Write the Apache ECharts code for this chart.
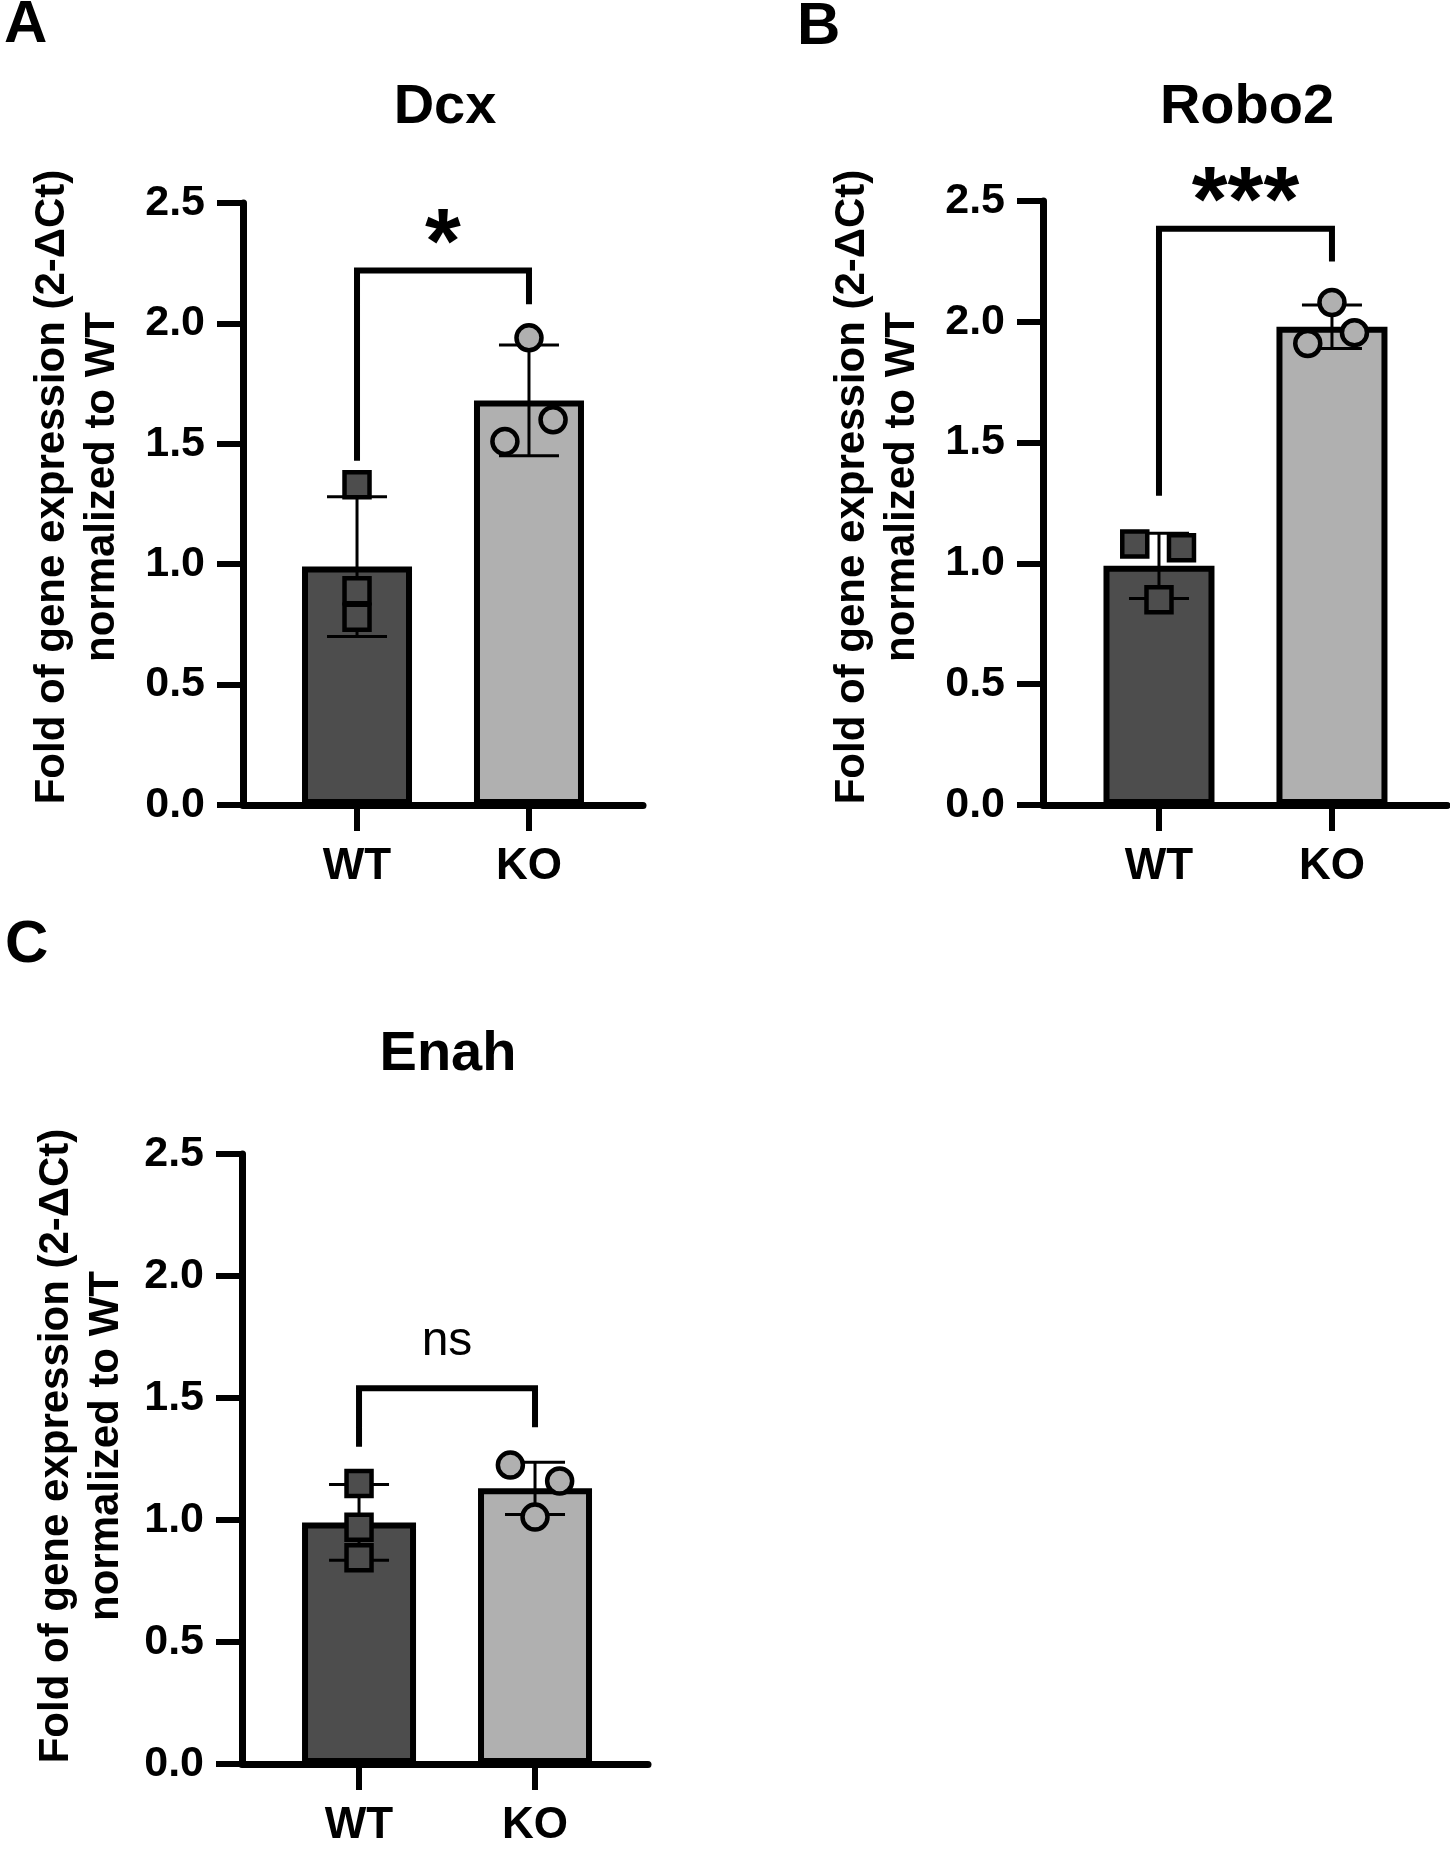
<!DOCTYPE html>
<html><head><meta charset="utf-8">
<script src="https://cdn.jsdelivr.net/npm/echarts@6/dist/echarts.min.js"></script>
<style>html,body{margin:0;padding:0;background:#fff}#c{width:1450px;height:1849px}</style>
</head><body><div id="c"></div>
<script>
// ---------- data ----------
const categories = ['WT', 'KO'];
const panelLetters = ['A', 'B', 'C'];
const geneNames = ['Dcx', 'Robo2', 'Enah'];
const yAxisTitle = 'Fold of gene expression (2-ΔCt)\nnormalized to WT';
const yTickLabels = ['0.0', '0.5', '1.0', '1.5', '2.0', '2.5'];

const dcxMean = [0.99, 1.68];
const dcxSD = [0.29, 0.23];
const dcxWT = [1.33, 0.89, 0.78];
const dcxKO = [1.94, 1.60, 1.51];
const dcxSig = ['*', 2.22, 1.43, 2.08];      // label, bracket top, left leg end, right leg end

const robo2Mean = [0.99, 1.98];
const robo2SD = [0.135, 0.09];
const robo2WT = [1.08, 1.065, 0.85];
const robo2KO = [2.08, 1.955, 1.91];
const robo2Sig = ['***', 2.385, 1.28, 2.25];

const enahMean = [0.99, 1.13];
const enahSD = [0.155, 0.107];
const enahWT = [1.15, 0.97, 0.845];
const enahKO = [1.225, 1.16, 1.012];
const enahSig = ['ns', 1.54, 1.30, 1.38];

// ---------- layout / style ----------
const FONT = '"Liberation Sans", Arial, Helvetica, sans-serif';
const WT_COLOR = '#4d4d4d';
const KO_COLOR = '#b0b0b0';

const panels = [
  { mean: dcxMean, sd: dcxSD, wt: dcxWT, ko: dcxKO, sig: dcxSig,
    left: 243, top: 203, width: 400, height: 602, xMin: 0.337, xMax: 2.663, barWidth: 110,
    wtJit: [0, 0, 0], koJit: [0, 0.14, -0.14],
    titleX: 445, titleY: 108, letterX: 4, letterY: 25, yTitleX: 77, yTitleY: 487,
    sigOffset: 23, sigFont: 'bold 92px ' + FONT },
  { mean: robo2Mean, sd: robo2SD, wt: robo2WT, ko: robo2KO, sig: robo2Sig,
    left: 1043, top: 201, width: 404, height: 604, xMin: 0.3295, xMax: 2.665, barWidth: 111,
    wtJit: [-0.14, 0.13, 0], koJit: [0, 0.13, -0.14],
    titleX: 1247, titleY: 108, letterX: 797, letterY: 27, yTitleX: 877, yTitleY: 487,
    sigOffset: 23, sigFont: 'bold 92px ' + FONT },
  { mean: enahMean, sd: enahSD, wt: enahWT, ko: enahKO, sig: enahSig,
    left: 242, top: 1154, width: 406, height: 610, xMin: 0.335, xMax: 2.642, barWidth: 114,
    wtJit: [0, 0, 0], koJit: [-0.14, 0.14, 0],
    titleX: 448, titleY: 1055, letterX: 5, letterY: 945, yTitleX: 81, yTitleY: 1446,
    sigOffset: 46, sigFont: 'normal 48px ' + FONT }
];

const grids = [], xAxes = [], yAxes = [], series = [], graphics = [];

panels.forEach((p, i) => {
  grids.push({ left: p.left, top: p.top, width: p.width, height: p.height, containLabel: false });
  xAxes.push({
    type: 'value', gridIndex: i, min: p.xMin, max: p.xMax,
    axisLine: { show: true, onZero: false, lineStyle: { color: '#000', width: 7 } },
    axisTick: { show: true, customValues: [1, 2], length: 26, lineStyle: { color: '#000', width: 6 } },
    axisLabel: { show: true, customValues: [1, 2], margin: 40,
      formatter: v => categories[Math.round(v) - 1] || '',
      color: '#000', fontFamily: FONT, fontWeight: 'bold', fontSize: 44 },
    splitLine: { show: false }
  });
  yAxes.push({
    type: 'value', gridIndex: i, min: 0, max: 2.5, interval: 0.5,
    axisLine: { show: true, lineStyle: { color: '#000', width: 7 } },
    axisTick: { show: true, length: 26, lineStyle: { color: '#000', width: 6 } },
    axisLabel: { margin: 38, formatter: v => yTickLabels[Math.round(v / 0.5)],
      color: '#000', fontFamily: FONT, fontWeight: 'bold', fontSize: 43 },
    splitLine: { show: false }
  });

  // bars
  series.push({
    type: 'bar', xAxisIndex: i, yAxisIndex: i, barWidth: p.barWidth, z: 2,
    itemStyle: { borderColor: '#000', borderWidth: 6 },
    data: [
      { value: [1, p.mean[0]], itemStyle: { color: WT_COLOR } },
      { value: [2, p.mean[1]], itemStyle: { color: KO_COLOR } }
    ]
  });
  // error bars (mean ± SD)
  series.push({
    type: 'custom', xAxisIndex: i, yAxisIndex: i, z: 3, clip: false,
    encode: { x: 0, y: [1, 2] },
    data: [[1, p.mean[0], p.sd[0]], [2, p.mean[1], p.sd[1]]],
    renderItem: (params, api) => {
      const x = api.value(0), m = api.value(1), s = api.value(2);
      const t = api.coord([x, m + s]), b = api.coord([x, m - s]);
      const hw = 30, st = { stroke: '#000', lineWidth: 3 };
      return { type: 'group', children: [
        { type: 'line', shape: { x1: t[0], y1: t[1], x2: b[0], y2: b[1] }, style: st },
        { type: 'line', shape: { x1: t[0] - hw, y1: t[1], x2: t[0] + hw, y2: t[1] }, style: st },
        { type: 'line', shape: { x1: b[0] - hw, y1: b[1], x2: b[0] + hw, y2: b[1] }, style: st }
      ]};
    }
  });
  // individual points
  series.push({
    type: 'scatter', xAxisIndex: i, yAxisIndex: i, z: 4, symbol: 'rect', symbolSize: 25,
    itemStyle: { color: WT_COLOR, borderColor: '#000', borderWidth: 4.5, opacity: 1 },
    data: p.wt.map((v, k) => [1 + p.wtJit[k], v])
  });
  series.push({
    type: 'scatter', xAxisIndex: i, yAxisIndex: i, z: 4, symbol: 'circle', symbolSize: 25,
    itemStyle: { color: KO_COLOR, borderColor: '#000', borderWidth: 4.5, opacity: 1 },
    data: p.ko.map((v, k) => [2 + p.koJit[k], v])
  });
  // significance bracket
  const sig = p.sig;
  series.push({
    type: 'custom', xAxisIndex: i, yAxisIndex: i, z: 5, clip: false,
    encode: { x: [0, 1], y: [2, 3, 4] },
    data: [[1, 2, sig[1], sig[2], sig[3]]],
    renderItem: (params, api) => {
      const x1 = api.value(0), x2 = api.value(1);
      const yt = api.value(2), yl = api.value(3), yr = api.value(4);
      const a = api.coord([x1, yl]), b = api.coord([x1, yt]);
      const c = api.coord([x2, yt]), d = api.coord([x2, yr]);
      return { type: 'group', children: [
        { type: 'polyline', shape: { points: [a, b, c, d] },
          style: { stroke: '#000', lineWidth: 6, fill: null, lineJoin: 'miter' } },
        { type: 'text', x: (b[0] + c[0]) / 2, y: b[1] - p.sigOffset,
          style: { text: sig[0], font: p.sigFont, fill: '#000',
            align: 'center', verticalAlign: 'middle', textAlign: 'center', textVerticalAlign: 'middle' } }
      ]};
    }
  });

  // panel letter, gene title, y-axis title
  graphics.push({ type: 'text', x: p.letterX, y: p.letterY,
    style: { text: panelLetters[i], font: 'bold 60px ' + FONT, fill: '#000',
      align: 'left', verticalAlign: 'middle', textAlign: 'left', textVerticalAlign: 'middle' } });
  graphics.push({ type: 'text', x: p.titleX, y: p.titleY,
    style: { text: geneNames[i], font: 'bold 56px ' + FONT, fill: '#000',
      align: 'center', verticalAlign: 'middle', textAlign: 'center', textVerticalAlign: 'middle' } });
  graphics.push({ type: 'text', x: p.yTitleX, y: p.yTitleY, rotation: Math.PI / 2,
    style: { text: yAxisTitle, font: 'bold 42px ' + FONT, fill: '#000', lineHeight: 50,
      align: 'center', verticalAlign: 'middle', textAlign: 'center', textVerticalAlign: 'middle' } });
});

const chart = echarts.init(document.getElementById('c'), null, { renderer: 'canvas' });
chart.setOption({
  animation: false,
  backgroundColor: '#fff',
  grid: grids,
  xAxis: xAxes,
  yAxis: yAxes,
  series: series,
  graphic: graphics
});
</script>
</body></html>
